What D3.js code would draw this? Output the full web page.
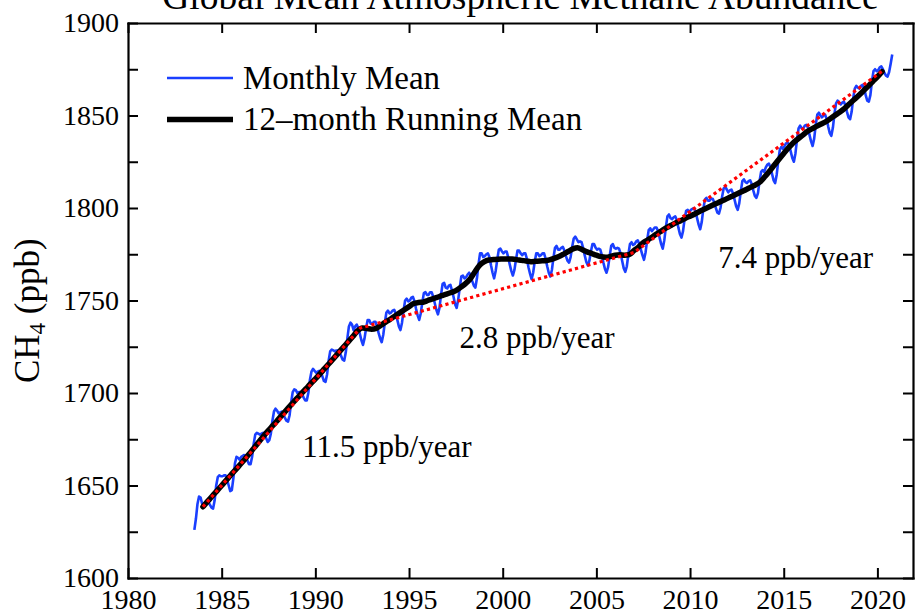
<!DOCTYPE html>
<html>
<head>
<meta charset="utf-8">
<script src="https://cdn.jsdelivr.net/npm/d3@7"></script>
<style>
body { margin: 0; background: #fff; }
text { font-family: "Liberation Serif", "Times New Roman", serif; fill: #000; }
</style>
</head>
<body>
<div id="chart"></div>
<script>
// monthly global mean CH4 (ppb), first value is July 1983
let startYear = 1983, startMonth = 7;
let monthlyMean = [
    1626, 1632, 1640, 1644, 1643.5, 1640,
    1639.5, 1641, 1642, 1641, 1639.5, 1638, 1637.5, 1642, 1650, 1654.5, 1655.5, 1655,
    1655, 1655.5, 1655.5, 1653, 1650, 1647, 1647.5, 1654, 1662, 1665.5, 1665, 1664,
    1665.5, 1666, 1666.5, 1665.5, 1663.5, 1661.5, 1661.5, 1665.5, 1672.5, 1677.5, 1678.5, 1678,
    1677.5, 1678, 1678.5, 1677.5, 1675.5, 1673.5, 1674.5, 1678, 1685, 1690, 1691.5, 1690.5,
    1689, 1689.5, 1690, 1688.5, 1686.5, 1685, 1684.5, 1688, 1695, 1700.5, 1702, 1701.5,
    1700, 1700.5, 1700.5, 1699.5, 1697.5, 1696, 1696, 1700, 1707, 1711.5, 1713, 1712,
    1711, 1711.5, 1712, 1711, 1709, 1706.5, 1706, 1710, 1717.5, 1722.5, 1723.5, 1723,
    1722.5, 1723, 1723, 1722, 1720, 1718, 1717.5, 1722, 1729.5, 1736, 1738, 1737,
    1734, 1736, 1737, 1735, 1732, 1728.5, 1726, 1729.5, 1735, 1739.5, 1739.5, 1737.5,
    1737.5, 1738.5, 1738.5, 1736, 1732.5, 1729.5, 1727.5, 1731.5, 1738, 1743.5, 1744.5, 1743,
    1743.5, 1744.5, 1745, 1743, 1739.5, 1736, 1734, 1738, 1744.5, 1750, 1751, 1749.5,
    1750, 1751.5, 1752, 1749.5, 1745.5, 1742, 1739.5, 1743, 1749, 1754, 1754.5, 1753,
    1753, 1754.5, 1754.5, 1752, 1748.5, 1745, 1742.5, 1746, 1753, 1759, 1759.5, 1757,
    1756.5, 1758, 1758.5, 1755.5, 1752, 1748, 1746, 1750.5, 1757, 1763, 1763.5, 1762,
    1762.5, 1764, 1765, 1763.5, 1760.5, 1758, 1757, 1762, 1769.5, 1775.5, 1775.5, 1773.5,
    1774, 1775, 1775.5, 1773.5, 1769, 1765, 1762, 1766, 1772, 1777.5, 1778, 1776.5,
    1775.5, 1776.5, 1776.5, 1773.5, 1769.5, 1766, 1763.5, 1766.5, 1772, 1777, 1777, 1775.5,
    1774.5, 1775.5, 1775.5, 1772.5, 1768, 1764.5, 1761.5, 1765, 1771, 1775.5, 1775.5, 1774,
    1774.5, 1775.5, 1775.5, 1772.5, 1768.5, 1765, 1763, 1766.5, 1773, 1778.5, 1779.5, 1777.5,
    1777.5, 1778.5, 1779, 1777, 1774, 1771.5, 1770.5, 1773.5, 1779, 1783.5, 1784.5, 1783,
    1781.5, 1782, 1781.5, 1778.5, 1774.5, 1771, 1769, 1771.5, 1776.5, 1780.5, 1780.5, 1778.5,
    1777.5, 1778, 1777.5, 1774.5, 1770.5, 1767, 1765, 1768, 1774, 1779.5, 1780.5, 1778.5,
    1778, 1778.5, 1778, 1775.5, 1771.5, 1767.5, 1765.5, 1768.5, 1775, 1780.5, 1781.5, 1780,
    1780.5, 1782, 1782.5, 1780.5, 1777.5, 1774.5, 1772, 1776, 1782.5, 1788, 1789, 1787.5,
    1788.5, 1789.5, 1789.5, 1787.5, 1784, 1780.5, 1778, 1782.5, 1789.5, 1795.5, 1796.5, 1794.5,
    1794, 1795, 1795.5, 1793.5, 1789.5, 1786, 1784, 1787.5, 1794, 1798.5, 1799, 1797.5,
    1799, 1799.5, 1800, 1798, 1794.5, 1791, 1788.5, 1792.5, 1799.5, 1804.5, 1805.5, 1804,
    1804, 1805, 1805, 1803, 1800, 1797.5, 1797, 1800, 1806, 1810.5, 1811.5, 1810,
    1808.5, 1809.5, 1810, 1808, 1804.5, 1801, 1799, 1802.5, 1809, 1814.5, 1815.5, 1814,
    1813.5, 1814.5, 1815, 1813, 1809.5, 1806.5, 1805.5, 1808, 1814.5, 1819.5, 1820.5, 1819.5,
    1822, 1823.5, 1824, 1822, 1818.5, 1815, 1813.5, 1818, 1825.5, 1831.5, 1833, 1832,
    1833.5, 1835, 1835.5, 1834, 1830.5, 1827, 1825, 1829.5, 1837, 1843, 1844.5, 1843,
    1843, 1844.5, 1845, 1843.5, 1839.5, 1836, 1833.5, 1837.5, 1845, 1850.5, 1851.5, 1850,
    1849, 1850, 1850.5, 1848, 1844, 1840.5, 1839, 1843.5, 1851, 1856.5, 1858, 1857,
    1856, 1857, 1857.5, 1855.5, 1852, 1849, 1848, 1852, 1859.5, 1864.5, 1866, 1865,
    1864.5, 1866, 1866.5, 1864.5, 1861, 1858, 1857.5, 1861, 1868.5, 1874, 1875, 1874,
    1874.5, 1876, 1876.5, 1875, 1873, 1871.5, 1871, 1873.5, 1878, 1883
];

// 12-month running mean, read every quarter year from 1984.0
let runningStart = 1984, runningStep = 0.25;
let runningMean = [
    1638.5, 1641.4, 1644.3, 1647.1, 1650.0, 1652.9, 1655.8, 1658.6,
    1661.5, 1664.4, 1667.5, 1670.6, 1673.8, 1676.9, 1679.8, 1682.6,
    1685.5, 1688.4, 1691.3, 1694.1, 1696.9, 1699.6, 1702.3, 1705.0,
    1707.6, 1710.4, 1713.3, 1716.1, 1719.0, 1721.9, 1724.8, 1727.6,
    1730.5, 1733.6, 1735.2, 1734.9, 1734.5, 1734.9, 1736.6, 1738.3,
    1739.9, 1741.6, 1743.3, 1745.0, 1746.7, 1748.4, 1748.9, 1749.1,
    1750.0, 1750.9, 1751.7, 1752.6, 1753.4, 1754.3, 1755.3, 1757.1,
    1759.0, 1761.5, 1765.3, 1768.9, 1770.9, 1771.9, 1772.1, 1772.3,
    1772.4, 1772.5, 1772.4, 1772.1, 1771.7, 1771.4, 1771.0, 1771.2,
    1771.4, 1771.5, 1772.0, 1772.8, 1773.8, 1775.1, 1776.5, 1777.9,
    1778.5, 1777.4, 1776.3, 1775.4, 1774.5, 1773.7, 1773.4, 1773.8,
    1774.5, 1774.7, 1774.5, 1774.8, 1776.9, 1778.9, 1781.3, 1782.8,
    1784.5, 1786.2, 1787.8, 1789.4, 1790.7, 1792.0, 1793.1, 1794.4,
    1795.6, 1796.8, 1798.1, 1799.3, 1800.5, 1801.7, 1802.9, 1804.0,
    1805.2, 1806.4, 1807.6, 1808.8, 1810.0, 1811.3, 1812.5, 1814.2,
    1817.0, 1820.0, 1823.2, 1826.4, 1829.5, 1832.5, 1835.2, 1837.3,
    1839.3, 1841.3, 1842.8, 1844.1, 1845.4, 1846.7, 1848.4, 1850.2,
    1851.9, 1853.9, 1856.2, 1858.5, 1860.8, 1863.3, 1865.8, 1868.4,
    1870.9, 1873.7
];

// linear growth fits: break years and values
let fitYears = [1984.0, 1992.4, 2007.0, 2020.3];
let fitValues = [1638.5, 1735.1, 1775.9, 1874.3];
let rateLabels = ["11.5 ppb/year", "2.8 ppb/year", "7.4 ppb/year"];

let xTickValues = [1980, 1985, 1990, 1995, 2000, 2005, 2010, 2015, 2020];
let yTickValues = [1600, 1625, 1650, 1675, 1700, 1725, 1750, 1775, 1800, 1825, 1850, 1875, 1900];
let yLabelValues = [1600, 1650, 1700, 1750, 1800, 1850, 1900];

let legendLabels = ["Monthly Mean", "12\u2013month Running Mean"];
let titleText = "Global Mean Atmospheric Methane Abundance";

let width = 916, height = 615;
let plotLeft = 128, plotRight = 913, plotTop = 23, plotBottom = 578;
let serif = '"Liberation Serif", "Times New Roman", serif';
let blue = "#1a3fff";

let svg = d3.select("#chart")
    .append("svg")
        .attr("width", width)
        .attr("height", height)
        .style("background", "#fff");

let x = d3.scaleLinear()
    .domain([1980, 2021.9])
    .range([plotLeft, plotRight]);

let y = d3.scaleLinear()
    .domain([1600, 1900])
    .range([plotBottom, plotTop]);

let monthly = monthlyMean.map(function(v, i) {
    return {t: startYear + (startMonth - 1 + i + 0.5) / 12, v: v};
});
let running = runningMean.map(function(v, i) {
    return {t: runningStart + i * runningStep, v: v};
});
let fits = fitYears.map(function(t, i) { return {t: t, v: fitValues[i]}; });

let line = d3.line()
    .x(function(d) { return x(d.t); })
    .y(function(d) { return y(d.v); });

svg.append("path")
    .datum(monthly)
    .attr("d", line)
    .attr("fill", "none")
    .attr("stroke", blue)
    .attr("stroke-width", 2.6)
    .attr("stroke-linejoin", "round");

svg.append("path")
    .datum(running)
    .attr("d", line.curve(d3.curveMonotoneX))
    .attr("fill", "none")
    .attr("stroke", "#000")
    .attr("stroke-width", 5.5)
    .attr("stroke-linejoin", "round")
    .attr("stroke-linecap", "round");

line.curve(d3.curveLinear);
svg.append("path")
    .datum(fits)
    .attr("d", line)
    .attr("fill", "none")
    .attr("stroke", "#ff0000")
    .attr("stroke-width", 3.2)
    .attr("stroke-dasharray", "3.2,3.2");

// axes, ticks pointing inward on all four sides
let styleAxis = function(g) {
    g.attr("font-family", serif).attr("font-size", 28);
    g.select(".domain").attr("stroke-width", 2.2).attr("stroke-linecap", "square");
    g.selectAll(".tick line").attr("stroke-width", 2);
    g.selectAll(".tick text").attr("fill", "#000");
}

svg.append("g")
    .attr("transform", "translate(0," + plotBottom + ")")
    .call(d3.axisBottom(x).tickValues(xTickValues).tickSize(-10).tickSizeOuter(0)
        .tickPadding(11).tickFormat(d3.format("d")))
    .call(styleAxis);

svg.append("g")
    .attr("transform", "translate(0," + plotTop + ")")
    .call(d3.axisTop(x).tickValues(xTickValues).tickSize(-10).tickSizeOuter(0).tickFormat(""))
    .call(styleAxis);

svg.append("g")
    .attr("transform", "translate(" + plotLeft + ",0)")
    .call(d3.axisLeft(y).tickValues(yTickValues).tickSize(-10).tickSizeOuter(0).tickPadding(9)
        .tickFormat(function(d) { return yLabelValues.includes(d) ? d : ""; }))
    .call(styleAxis);

svg.append("g")
    .attr("transform", "translate(" + plotRight + ",0)")
    .call(d3.axisRight(y).tickValues(yTickValues).tickSize(-10).tickSizeOuter(0).tickFormat(""))
    .call(styleAxis);

// title (cut by the top edge, as in the original)
svg.append("text")
    .attr("x", (plotLeft + plotRight) / 2)
    .attr("y", 9)
    .attr("text-anchor", "middle")
    .attr("font-size", 37.5)
    .text(titleText);

// y axis label
let ylab = svg.append("text")
    .attr("transform", "translate(38.5,383) rotate(-90)")
    .attr("font-size", 35);
ylab.append("tspan").text("CH");
ylab.append("tspan").attr("font-size", 23).attr("dy", 6.5).text("4");
ylab.append("tspan").attr("dy", -6.5).text(" (ppb)");

// legend
let legendStyles = [{stroke: blue, width: 2.4}, {stroke: "#000", width: 5.5}];
let legendRows = [78, 119.5];
legendLabels.forEach(function(label, i) {
    svg.append("line")
        .attr("x1", 167).attr("x2", 233)
        .attr("y1", legendRows[i]).attr("y2", legendRows[i])
        .attr("stroke", legendStyles[i].stroke)
        .attr("stroke-width", legendStyles[i].width);
    svg.append("text")
        .attr("x", 243)
        .attr("y", legendRows[i] + 10.5)
        .attr("font-size", 33)
        .text(label);
});

// growth rate labels, placed in data space
let ratePlaces = [[1989.3, 1665.3], [1997.7, 1724.1], [2011.5, 1767.3]];
rateLabels.forEach(function(label, i) {
    svg.append("text")
        .attr("x", x(ratePlaces[i][0]))
        .attr("y", y(ratePlaces[i][1]))
        .attr("font-size", 31)
        .text(label);
});
</script>
</body>
</html>
